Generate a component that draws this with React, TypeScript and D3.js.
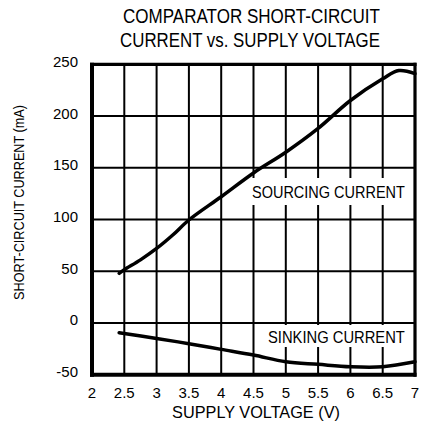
import React, { useLayoutEffect, useRef, useState } from "react";
import * as d3 from "d3";

const xTicks = [2, 2.5, 3, 3.5, 4, 4.5, 5, 5.5, 6, 6.5, 7];
const yTicks = [-50, 0, 50, 100, 150, 200, 250];
const sourcingV = [2.42, 2.5, 2.75, 3, 3.25, 3.5, 4, 4.5, 5, 5.5, 6, 6.5, 6.75, 7];
const sourcingI = [48, 51.5, 61, 72, 85, 99.5, 122, 145, 165, 188, 215, 236, 244, 241];
const sinkingV = [2.42, 3, 3.5, 4, 4.5, 5, 5.5, 6, 6.5, 7];
const sinkingI = [-9.5, -15, -20, -25.5, -31, -37.5, -40, -42.3, -42.3, -37.5];
const titleLines = ["COMPARATOR SHORT-CIRCUIT", "CURRENT vs. SUPPLY VOLTAGE"];
const xLabel = "SUPPLY VOLTAGE (V)";
const yLabel = "SHORT-CIRCUIT CURRENT (mA)";
const seriesLabels = ["SOURCING CURRENT", "SINKING CURRENT"];

function FitText(props: {
  x: number;
  y: number;
  width: number;
  fontSize: number;
  anchor?: "start" | "middle" | "end";
  rotate?: number;
  children: string;
}) {
  const ref = useRef<SVGTextElement>(null);
  const [sx, setSx] = useState(1);
  useLayoutEffect(() => {
    if (ref.current) {
      const w = ref.current.getComputedTextLength();
      if (w > 0) setSx(props.width / w);
    }
  }, [props.width, props.children, props.fontSize]);
  const rot = props.rotate ? ` rotate(${props.rotate})` : "";
  return (
    <text
      ref={ref}
      transform={`translate(${props.x},${props.y})${rot} scale(${sx},1)`}
      fontSize={props.fontSize}
      textAnchor={props.anchor || "start"}
    >
      {props.children}
    </text>
  );
}

export default function App() {
  const W = 422, H = 433;
  const x = d3.scaleLinear().domain([2, 7]).range([92, 415]);
  const y = d3.scaleLinear().domain([-50, 250]).range([374.7, 64.3]);
  const line = d3
    .line<[number, number]>()
    .x((d) => x(d[0]))
    .y((d) => y(d[1]))
    .curve(d3.curveCatmullRom.alpha(0.5));
  const src = sourcingV.map((v, i) => [v, sourcingI[i]] as [number, number]);
  const snk = sinkingV.map((v, i) => [v, sinkingI[i]] as [number, number]);
  const font = "'Liberation Sans', Arial, Helvetica, sans-serif";
  return (
    <svg
      width={W}
      height={H}
      style={{ position: "absolute", left: 0, top: 0, background: "#fff" }}
      fontFamily={font}
    >
      <rect x={0} y={0} width={W} height={H} fill="#fff" />
      {/* title */}
      <FitText x={251.5} y={22.7} width={257} fontSize={20} anchor="middle">
        {titleLines[0]}
      </FitText>
      <FitText x={250} y={46.7} width={260} fontSize={20} anchor="middle">
        {titleLines[1]}
      </FitText>
      {/* grid */}
      {xTicks.slice(1, -1).map((t) => (
        <line key={"gx" + t} x1={x(t)} x2={x(t)} y1={y(250)} y2={y(-50)} stroke="#000" strokeWidth={2} />
      ))}
      {yTicks.slice(1, -1).map((t) => (
        <line key={"gy" + t} x1={x(2)} x2={x(7)} y1={y(t)} y2={y(t)} stroke="#000" strokeWidth={2} />
      ))}
      {/* label backgrounds */}
      <rect x={249} y={178} width={160} height={27} fill="#fff" />
      <rect x={265} y={325} width={144} height={22} fill="#fff" />
      <FitText x={252} y={197.5} width={153} fontSize={16}>
        {seriesLabels[0]}
      </FitText>
      <FitText x={268} y={342.5} width={137} fontSize={16}>
        {seriesLabels[1]}
      </FitText>
      {/* frame */}
      <line x1={x(2)} x2={x(2)} y1={y(250) - 1.5} y2={y(-50) + 2} stroke="#000" strokeWidth={4} />
      <line x1={x(2) - 2} x2={x(7) + 1.5} y1={y(-50)} y2={y(-50)} stroke="#000" strokeWidth={4} />
      <line x1={x(2) - 2} x2={x(7) + 1.5} y1={y(250)} y2={y(250)} stroke="#000" strokeWidth={3.2} />
      <line x1={x(7)} x2={x(7)} y1={y(250) - 1.5} y2={y(-50) + 2} stroke="#000" strokeWidth={3.2} />
      {/* curves */}
      <path d={line(src) || ""} fill="none" stroke="#000" strokeWidth={3.5} strokeLinecap="round" />
      <path d={line(snk) || ""} fill="none" stroke="#000" strokeWidth={3.5} strokeLinecap="round" />
      {/* tick labels */}
      {xTicks.map((t) => (
        <text key={"tx" + t} x={x(t)} y={398} fontSize={15} textAnchor="middle">
          {String(t)}
        </text>
      ))}
      {yTicks.map((t) => (
        <text key={"ty" + t} x={78} y={y(t) + 2.5} fontSize={15} textAnchor="end">
          {String(t)}
        </text>
      ))}
      <FitText x={256} y={418} width={168} fontSize={16} anchor="middle">
        {xLabel}
      </FitText>
      <FitText x={24} y={202.5} width={195} fontSize={14} anchor="middle" rotate={-90}>
        {yLabel}
      </FitText>
    </svg>
  );
}
